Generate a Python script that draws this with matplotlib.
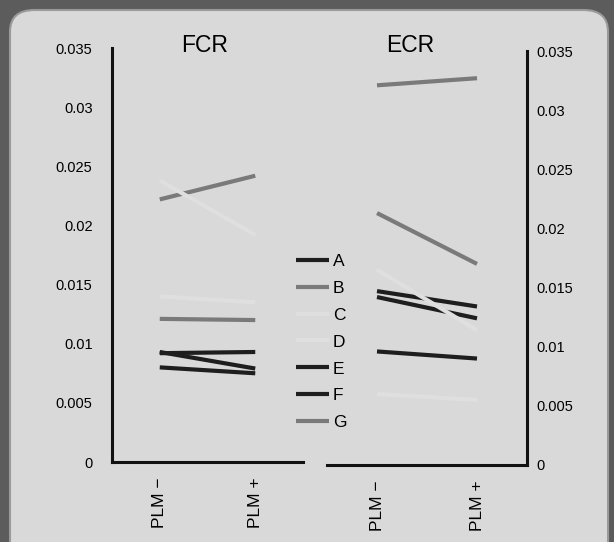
import matplotlib.pyplot as plt
from matplotlib.patches import FancyBboxPatch
from matplotlib.ticker import FixedLocator

plt.rcParams['font.family'] = ['Liberation Sans', 'DejaVu Sans']

groups = ['PLM −', 'PLM +']
series = ['A', 'B', 'C', 'D', 'E', 'F', 'G']
# C and D are printed in white, barely visible on the screened background
colors = ['#1e1e1e', '#7a7a7a', '#dfdfdf', '#dfdfdf', '#1e1e1e', '#1e1e1e', '#7a7a7a']

fcr_values = {
    'A': [0.0092, 0.0093],
    'B': [0.0121, 0.0120],
    'C': [0.0238, 0.0192],
    'D': [0.0140, 0.0135],
    'E': [0.0093, 0.0079],
    'F': [0.0080, 0.0075],
    'G': [0.0222, 0.0242],
}
ecr_values = {
    'A': [0.0147, 0.0134],
    'B': [0.0213, 0.0170],
    'C': [0.0165, 0.0114],
    'D': [0.0060, 0.0055],
    'E': [0.0142, 0.0124],
    'F': [0.0096, 0.0090],
    'G': [0.0321, 0.0327],
}
yticks = [0, 0.005, 0.01, 0.015, 0.02, 0.025, 0.03, 0.035]
ytick_labels = ['0', '0.005', '0.01', '0.015', '0.02', '0.025', '0.03', '0.035']

W, H = 614, 542
fig = plt.figure(figsize=(W / 100, H / 100), dpi=100)
fig.patch.set_facecolor('#5c5c5c')
panel = FancyBboxPatch((10 / W, -0.05), 598 / W, (H - 10) / H + 0.05,
                       boxstyle='round,pad=0,rounding_size=0.04',
                       transform=fig.transFigure, facecolor='#d9d9d9',
                       edgecolor='#9a9a9a', linewidth=1.5, zorder=-1)
fig.patches.append(panel)


def make_axes(x0, x1, ytop, ybot):
    return fig.add_axes([x0 / W, (H - ybot) / H, (x1 - x0) / W, (ybot - ytop) / H])


ax1 = make_axes(112, 303, 48, 462)
ax2 = make_axes(327, 527, 51, 465)

for ax, vals, title, tx in [(ax1, fcr_values, 'FCR', 205), (ax2, ecr_values, 'ECR', 410)]:
    ax.set_facecolor('none')
    ax.set_zorder(2)
    for name, c in zip(series, colors):
        z = 4 if name in ('C', 'D') else 3
        ax.plot([0, 1], vals[name], color=c, linewidth=3, solid_capstyle='butt',
                label=name, zorder=z)
    ax.set_xlim(-0.5, 1.5)
    ax.set_ylim(0, 0.035)
    ax.set_xticks([0, 1])
    ax.set_xticklabels(groups, rotation=90, fontsize=12.5, va='top')
    ax.yaxis.set_major_locator(FixedLocator(yticks))
    ax.set_yticklabels(ytick_labels, fontsize=10.5)
    ax.tick_params(length=0)
    ax.tick_params(axis='x', pad=11)
    for s in ax.spines.values():
        s.set_linewidth(2.2)
        s.set_color('#111111')
    ax.spines['top'].set_visible(False)
    fig.text(tx / W, (H - 46) / H, title, fontsize=16.5, ha='center', va='center')

ax1.spines['right'].set_visible(False)
ax1.tick_params(axis='y', pad=14)
ax2.spines['left'].set_visible(False)
ax2.yaxis.tick_right()
ax2.tick_params(axis='y', pad=7)

handles, labels = ax1.get_legend_handles_labels()
leg = fig.legend(handles, labels, loc='center', bbox_to_anchor=(321 / W, (H - 342) / H),
                 frameon=False, fontsize=12.5, handlelength=1.9, handletextpad=0.25,
                 labelspacing=0.68)

fig.savefig('out.png', dpi=100, facecolor=fig.get_facecolor())
